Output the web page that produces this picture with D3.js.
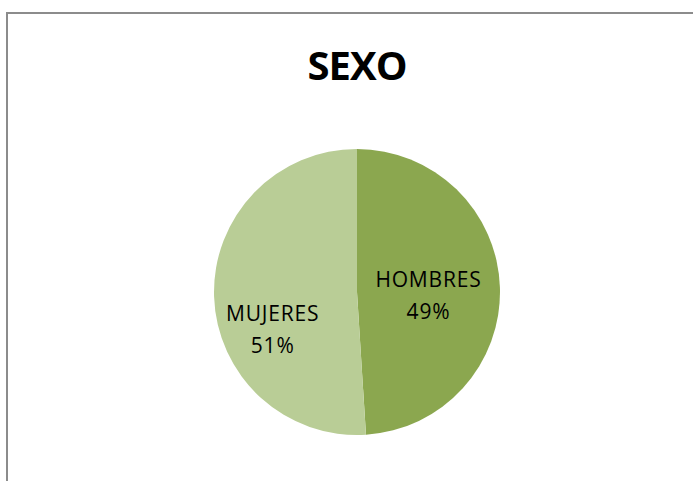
<!DOCTYPE html>
<html>
<head>
<meta charset="utf-8">
<script src="https://cdn.jsdelivr.net/npm/d3@7"></script>
<style>
  body { margin: 0; background: #fff; }
  svg { display: block; }
</style>
</head>
<body>
<div id="viz"></div>
<script>
var width = 693;
var height = 481;

// data
var categories = ["HOMBRES", "MUJERES"];
var values = [49, 51];
var colors = ["#8ba74f", "#b9cd96"];

var svg = d3.select("#viz").append("svg")
   .attr("width", width)
   .attr("height", height);

// chart frame (bottom and right run off the picture)
svg.append("path")
   .attr("d", "M7,482 V13 H694")
   .attr("fill", "none")
   .attr("stroke", "#8c8c8c")
   .attr("stroke-width", 2);

svg.append("text")
   .attr("x", 357)
   .attr("y", 80)
   .attr("text-anchor", "middle")
   .style("font-family", "'Open Sans', 'Liberation Sans', sans-serif")
   .style("font-weight", "bold")
   .style("font-size", "40px")
   .style("letter-spacing", "-1px")
   .text("SEXO");

var cx = 357, cy = 292, r = 143;

var pie = d3.pie().sort(null).value(function(d) { return d; });
var arcs = pie(values);
var arc = d3.arc().innerRadius(0).outerRadius(r);

var g = svg.append("g").attr("transform", "translate(" + cx + "," + cy + ")");

g.selectAll("path.slice")
   .data(arcs)
   .enter().append("path")
   .attr("class", "slice")
   .attr("d", arc)
   .attr("fill", function(d, i) { return colors[i]; });

var total = d3.sum(values);

// label placement like excel: radius fraction and vertical nudge per slice
var labelPos = [{k: 0.5, dy: 3}, {k: 0.59, dy: 32}];

var labels = g.selectAll("text.lbl")
   .data(arcs)
   .enter().append("text")
   .attr("class", "lbl")
   .attr("text-anchor", "middle")
   .attr("transform", function(d, i) {
      var c = d3.arc().innerRadius(r * labelPos[i].k).outerRadius(r * labelPos[i].k).centroid(d);
      return "translate(" + c[0] + "," + (c[1] + labelPos[i].dy) + ")";
   })
   .style("font-family", "'Open Sans', 'Liberation Sans', sans-serif")
   .style("font-size", "21px")
   .style("letter-spacing", "0.8px")
   .attr("fill", "#000");

labels.append("tspan")
   .attr("x", 0)
   .attr("y", -6)
   .text(function(d, i) { return categories[i]; });
labels.append("tspan")
   .attr("x", 0)
   .attr("y", 26)
   .text(function(d, i) { return Math.round(values[i] / total * 100) + "%"; });
</script>
</body>
</html>
